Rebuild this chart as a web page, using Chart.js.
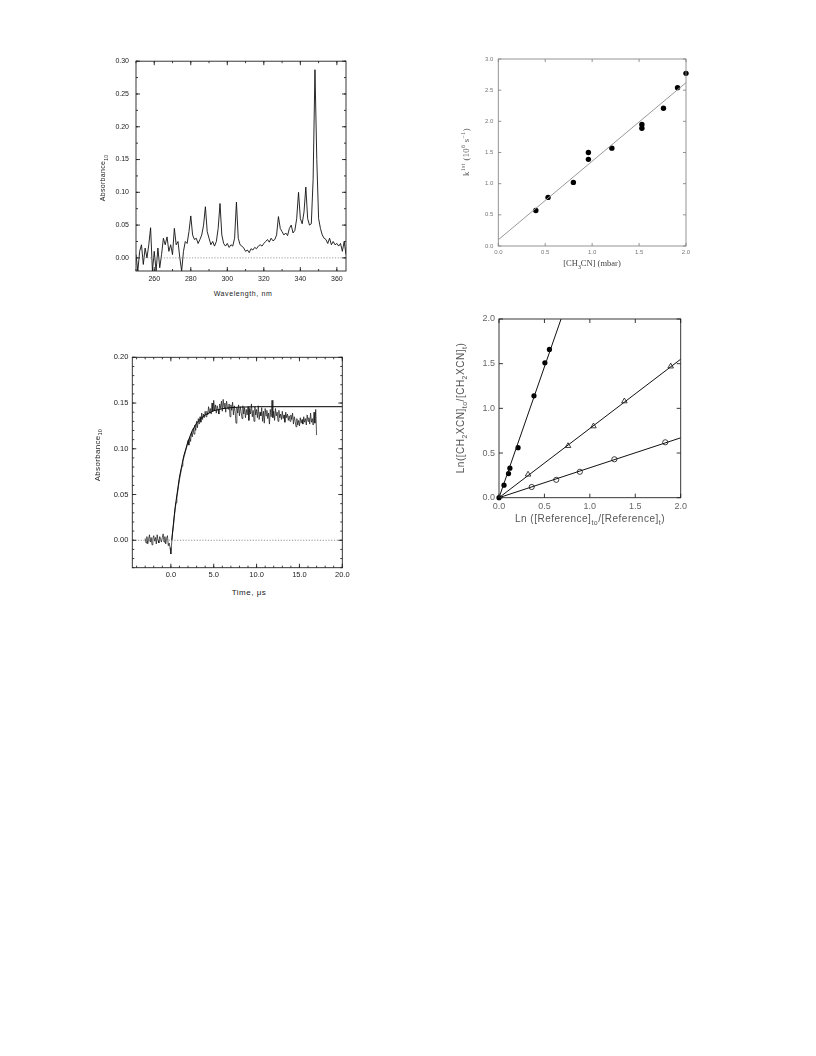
<!DOCTYPE html>
<html>
<head>
<meta charset="utf-8">
<script src="https://cdn.jsdelivr.net/npm/chart.js@4.4.1/dist/chart.umd.min.js"></script>
<style>
body { margin: 0; background: #fff; width: 816px; height: 1056px; position: relative; overflow: hidden; }
canvas { position: absolute; }
.t { position: absolute; white-space: nowrap; color: #222; font-family: 'Liberation Sans', sans-serif; transform: translate(-50%, -50%); }
.r { transform: translate(-50%, -50%) rotate(-90deg); }
sub, sup { font-size: 70%; line-height: 0; }
</style>
</head>
<body>
<canvas id="spectrum" style="left:90px;top:50px" width="270" height="235"></canvas>
<canvas id="rate" style="left:470px;top:50px" width="230" height="215"></canvas>
<canvas id="trace" style="left:90px;top:345px" width="270" height="240"></canvas>
<canvas id="relative" style="left:470px;top:305px" width="230" height="210"></canvas>

<div class="t r" style="left:103px;top:178px;font-size:7px;letter-spacing:0.3px">Absorbance<sub>10</sub></div>
<div class="t" style="left:243px;top:293px;font-size:7px;letter-spacing:0.6px">Wavelength, nm</div>

<div class="t r" style="left:466px;top:152px;font-family:'Liberation Serif',serif;font-size:8.5px;letter-spacing:0.4px;color:#555">k<sup>1st</sup> (10<sup>6</sup> s<sup>−1</sup>)</div>
<div class="t" style="left:592px;top:263px;font-family:'Liberation Serif',serif;font-size:8.5px;color:#444">[CH<sub>3</sub>CN] (mbar)</div>

<div class="t r" style="left:97px;top:455px;font-size:8px;letter-spacing:0.3px">Absorbance<sub>10</sub></div>
<div class="t" style="left:249px;top:592px;font-size:8px;letter-spacing:0.5px">Time, μs</div>

<div class="t r" style="left:460px;top:408px;font-size:10px;letter-spacing:0.5px;color:#555">Ln([CH<sub>2</sub>XCN]<sub>to</sub>/[CH<sub>2</sub>XCN]<sub>t</sub>)</div>
<div class="t" style="left:590px;top:518px;font-size:10px;letter-spacing:0.5px;color:#555">Ln ([Reference]<sub>to</sub>/[Reference]<sub>t</sub>)</div>

<script>
const d = document

// spectrum, 1 nm steps from 250 nm
const wavelengthStart = 250
const absorbance = [
	0.005, -0.02, 0.01, 0.02, -0.01, 0.015, 0.0, 0.02, 0.046, -0.02,
	0.01, -0.02, 0.015, -0.015, 0.005, 0.03, 0.02, 0.032, 0.01, 0.02,
	0.005, 0.045, 0.02, 0.025, 0.0, -0.02, 0.01, 0.025, 0.022, 0.04,
	0.064, 0.035, 0.028, 0.03, 0.022, 0.028, 0.035, 0.05, 0.078, 0.04,
	0.03, 0.02, 0.025, 0.018, 0.025, 0.045, 0.083, 0.035, 0.022, 0.018,
	0.022, 0.016, 0.02, 0.018, 0.03, 0.085, 0.03, 0.02, 0.018, 0.015,
	0.01, 0.012, 0.008, 0.014, 0.012, 0.016, 0.014, 0.018, 0.02, 0.018,
	0.022, 0.025, 0.028, 0.024, 0.03, 0.026, 0.028, 0.035, 0.063, 0.045,
	0.04, 0.035, 0.038, 0.034, 0.045, 0.05, 0.038, 0.042, 0.06, 0.1,
	0.06, 0.052, 0.07, 0.108, 0.06, 0.05, 0.052, 0.12, 0.287, 0.15,
	0.06, 0.045, 0.035, 0.03, 0.028, 0.022, 0.03, 0.02, 0.025, 0.02,
	0.022, 0.018, 0.022, 0.01, 0.025, 0.005
]
const spectrumXTicks = [260, 280, 300, 320, 340, 360]
const spectrumYTicks = [0, 0.05, 0.1, 0.15, 0.2, 0.25, 0.3]

// first order rate vs concentration
const concentration = [0.40, 0.53, 0.80, 0.96, 0.96, 1.21, 1.53, 1.53, 1.76, 1.91, 2.00]
const rateConstant = [0.57, 0.78, 1.02, 1.39, 1.50, 1.57, 1.95, 1.89, 2.21, 2.54, 2.77]
const rateFitX = [0, 2.0]
const rateFitY = [0.10, 2.62]
const rateTicks = [0, 0.5, 1.0, 1.5, 2.0]
const rateYTicks = [0, 0.5, 1.0, 1.5, 2.0, 2.5, 3.0]

// transient absorption, 0.1 us steps from -3.0 us
const traceStart = -3.0
const traceAbs = [
	0.002, -0.003, 0.004, -0.004, 0.001, 0.006, -0.002, 0.003, -0.005, 0.002,
	0.005, -0.001, 0.003, -0.004, 0.006, 0.000, -0.003, 0.004, 0.001, -0.002,
	0.003, 0.007, -0.002, 0.004, -0.004, 0.002, 0.005, -0.006, -0.003, -0.008,
	-0.015,
	-0.002, 0.008, 0.016, 0.026, 0.034, 0.041, 0.047, 0.053, 0.06, 0.066,
	0.071, 0.076, 0.081, 0.086, 0.09, 0.093, 0.097, 0.1, 0.104, 0.109,
	0.104, 0.113, 0.108, 0.118, 0.113, 0.122, 0.116, 0.126, 0.12, 0.13,
	0.123, 0.133, 0.127, 0.135, 0.129, 0.139, 0.132, 0.138, 0.134, 0.141,
	0.135, 0.141, 0.137, 0.146, 0.139, 0.144, 0.138, 0.15, 0.141, 0.153,
	0.142, 0.148, 0.139, 0.147, 0.143, 0.138, 0.149, 0.144, 0.152, 0.141,
	0.154, 0.145, 0.15, 0.14, 0.152, 0.146, 0.143, 0.149, 0.135, 0.148,
	0.142, 0.151, 0.137, 0.147, 0.14, 0.128, 0.145, 0.139, 0.148, 0.136,
	0.146, 0.14, 0.133, 0.147, 0.138, 0.145, 0.134, 0.143, 0.137, 0.146,
	0.131, 0.144, 0.138, 0.149, 0.135, 0.142, 0.13, 0.146, 0.137, 0.143,
	0.134, 0.147, 0.132, 0.14, 0.136, 0.145, 0.13, 0.141, 0.128, 0.144,
	0.136, 0.142, 0.133, 0.139, 0.127, 0.143, 0.135, 0.153, 0.134, 0.141,
	0.131, 0.144, 0.136, 0.14, 0.13, 0.142, 0.134, 0.138, 0.132, 0.141,
	0.133, 0.137, 0.129, 0.14, 0.134, 0.138, 0.131, 0.136, 0.13, 0.137,
	0.132, 0.139, 0.127, 0.135, 0.13, 0.124, 0.133, 0.126, 0.131, 0.125,
	0.134, 0.128, 0.132, 0.127, 0.135, 0.129, 0.133, 0.126, 0.137, 0.13,
	0.134, 0.127, 0.139, 0.129, 0.133, 0.126, 0.14, 0.128, 0.143, 0.115
]
const traceFitTime = [0.1, 0.5, 1.0, 1.5, 2.0, 2.5, 3.0, 3.5, 4.0, 5.0, 6.0, 7.0, 8.0, 10.0, 20.0]
const traceFitAbs = [0, 0.036, 0.069, 0.092, 0.108, 0.120, 0.128, 0.133, 0.137, 0.1416, 0.1438, 0.145, 0.1455, 0.146, 0.146]
const traceXTicks = [0, 5, 10, 15, 20]
const traceYTicks = [0, 0.05, 0.1, 0.15, 0.2]

// relative rate plot
const filledX = [0, 0.055, 0.105, 0.12, 0.21, 0.385, 0.505, 0.555]
const filledY = [0, 0.14, 0.27, 0.33, 0.56, 1.14, 1.51, 1.66]
const triangleX = [0.32, 0.76, 1.04, 1.38, 1.89]
const triangleY = [0.26, 0.58, 0.80, 1.08, 1.47]
const openX = [0.36, 0.63, 0.89, 1.27, 1.83]
const openY = [0.12, 0.20, 0.29, 0.43, 0.62]
const filledFit = [[0, 0], [0.683, 2.0]]
const triangleFit = [[0, 0], [2.0, 1.55]]
const openFit = [[0, 0], [2.0, 0.67]]
const relativeTicks = [0, 0.5, 1.0, 1.5, 2.0]

const pts = (xs, ys) => xs.map((x, i) => ({ x, y: ys[i] }))
const pairs = (list) => list.map(([x, y]) => ({ x, y }))

function range(min, max, step) {
	const out = []
	for (let k = Math.ceil(min / step - 1e-9); k * step <= max + 1e-9; k++) out.push(+(k * step).toFixed(6))
	return out
}

const frameTicks = {
	id: 'frameTicks',
	afterDatasetsDraw(chart, args, o) {
		const { ctx, chartArea: a, scales: { x, y } } = chart
		ctx.save()
		ctx.strokeStyle = o.color
		ctx.lineWidth = o.width
		ctx.strokeRect(a.left, a.top, a.right - a.left, a.bottom - a.top)
		const marks = (s, step, len) => {
			const list = step ? range(s.min, s.max, step) : s.ticks.map((t) => t.value)
			list.forEach((v) => {
				const p = s.getPixelForValue(v)
				ctx.beginPath()
				if (s.isHorizontal()) {
					ctx.moveTo(p, a.bottom); ctx.lineTo(p, a.bottom - len)
					ctx.moveTo(p, a.top); ctx.lineTo(p, a.top + len)
				} else {
					ctx.moveTo(a.left, p); ctx.lineTo(a.left + len, p)
					ctx.moveTo(a.right, p); ctx.lineTo(a.right - len, p)
				}
				ctx.stroke()
			})
		}
		marks(x, 0, o.major)
		marks(y, 0, o.major)
		if (o.xMinor) marks(x, o.xMinor, o.minor)
		if (o.yMinor) marks(y, o.yMinor, o.minor)
		ctx.restore()
	}
}

function axis(min, max, values, digits, font, color, padding, size, isX) {
	return {
		type: 'linear', min, max,
		grid: { display: false, drawTicks: false },
		border: { display: false },
		afterBuildTicks: (s) => { s.ticks = values.map((value) => ({ value })) },
		afterFit: (s) => { if (isX) s.height = size; else s.width = size },
		ticks: { font, color, padding, autoSkip: false, maxRotation: 0, callback: (v) => v.toFixed(digits) }
	}
}

function makeChart(id, datasets, scales, padding, frame) {
	return new Chart(d.getElementById(id), {
		type: 'scatter',
		data: { datasets },
		options: {
			responsive: false,
			animation: false,
			devicePixelRatio: 1,
			layout: { padding },
			scales,
			plugins: { legend: { display: false }, tooltip: { enabled: false }, frameTicks: frame }
		},
		plugins: [frameTicks]
	})
}

const line = (data, color, width, extra = {}) => ({ data, showLine: true, borderColor: color, borderWidth: width, pointRadius: 0, ...extra })
const dotted = { borderDash: [1.2, 1.6] }

const f7 = { family: 'Liberation Sans', size: 7 }
const f8 = { family: 'Liberation Sans', size: 7.5 }
const f6 = { family: 'Liberation Sans', size: 6 }
const f9 = { family: 'Liberation Sans', size: 9 }

const wavelengths = absorbance.map((_, i) => wavelengthStart + i)
makeChart('spectrum', [
	line(pairs([[250, 0], [365, 0]]), '#888', 0.8, dotted),
	line(pts(wavelengths, absorbance), '#111', 0.9)
], {
	x: axis(250, 365, spectrumXTicks, 0, f7, '#222', 4, 14, true),
	y: axis(-0.02, 0.30, spectrumYTicks, 2, f7, '#222', 7, 46, false)
}, { top: 10, right: 14, left: 0, bottom: 0 },
{ color: '#222', width: 0.9, major: 4, minor: 2, xMinor: 10, yMinor: 0.025 })

makeChart('rate', [
	line(pts(rateFitX, rateFitY), '#999', 1),
	{ data: pts(concentration, rateConstant), pointRadius: 2.7, backgroundColor: '#000', borderColor: '#000', borderWidth: 0, clip: false }
], {
	x: axis(0, 2.0, rateTicks, 1, f6, '#777', 3, 19, true),
	y: axis(0, 3.0, rateYTicks, 1, f6, '#777', 5, 28.3, false)
}, { top: 9, right: 14, left: 0, bottom: 0 },
{ color: '#888', width: 0.9, major: 3, minor: 0 })

const times = traceAbs.map((_, i) => +(traceStart + i * 0.1).toFixed(1))
makeChart('trace', [
	line(pairs([[-4.5, 0], [20, 0]]), '#777', 0.8, dotted),
	line(pts(times, traceAbs), '#111', 0.7),
	line(pts(traceFitTime, traceFitAbs), '#000', 1)
], {
	x: axis(-4.5, 20, traceXTicks, 1, f8, '#222', 3, 17.3, true),
	y: axis(-0.03, 0.20, traceYTicks, 2, f8, '#222', 4, 42.3, false)
}, { top: 12.3, right: 17.7, left: 0, bottom: 0 },
{ color: '#222', width: 0.9, major: 4, minor: 2, xMinor: 1, yMinor: 0.01 })

makeChart('relative', [
	line(pairs(filledFit), '#111', 1),
	line(pairs(triangleFit), '#111', 1),
	line(pairs(openFit), '#111', 1),
	{ data: pts(openX, openY), pointStyle: 'circle', pointRadius: 2.6, backgroundColor: '#fff', borderColor: '#111', borderWidth: 0.8, clip: false },
	{ data: pts(triangleX, triangleY), pointStyle: 'triangle', pointRadius: 3.2, backgroundColor: '#fff', borderColor: '#111', borderWidth: 0.8, clip: false },
	{ data: pts(filledX, filledY), pointStyle: 'circle', pointRadius: 2.6, backgroundColor: '#000', borderColor: '#000', borderWidth: 0, clip: false }
], {
	x: axis(0, 2.0, relativeTicks, 1, f9, '#666', 3, 17.3, true),
	y: axis(0, 2.0, relativeTicks, 1, f9, '#666', 4, 29, false)
}, { top: 14, right: 19.3, left: 0, bottom: 0 },
{ color: '#222', width: 0.9, major: 4, minor: 0 })
</script>
</body>
</html>
